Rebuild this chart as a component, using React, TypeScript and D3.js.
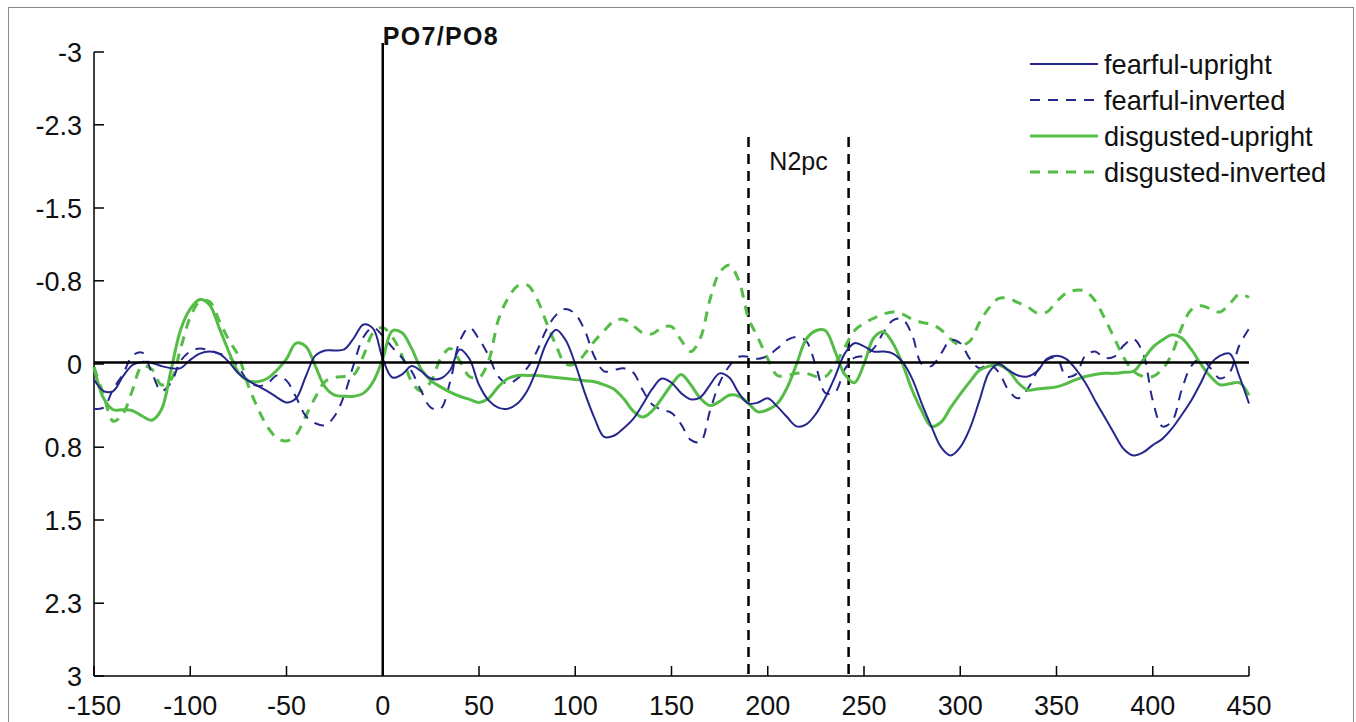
import React from "react";
import * as d3 from "d3";

const times: number[] = d3.range(-150, 451, 5);

const fearfulUpright = [
  0.15,0.26,0.26,0.12,0.01,-0.02,-0.01,0.02,0.04,0.04,
  -0.04,-0.1,-0.12,-0.1,-0.02,0.09,0.16,0.21,0.26,0.32,
  0.37,0.33,0.12,-0.08,-0.13,-0.13,-0.14,-0.25,-0.38,-0.34,
  -0.05,0.13,0.1,0.02,0.07,0.14,0.14,0.06,-0.14,-0.05,
  0.2,0.35,0.42,0.43,0.38,0.26,0.05,-0.2,-0.33,-0.23,
  0.0,0.28,0.52,0.7,0.69,0.62,0.53,0.39,0.24,0.14,
  0.18,0.28,0.34,0.32,0.2,0.09,0.13,0.28,0.38,0.37,
  0.33,0.41,0.51,0.6,0.58,0.48,0.32,0.12,-0.1,-0.2,
  -0.17,-0.12,-0.12,-0.1,-0.02,0.14,0.38,0.6,0.8,0.88,
  0.8,0.62,0.35,0.08,0.0,0.06,0.11,0.12,0.07,-0.05,
  -0.08,-0.05,0.05,0.18,0.35,0.51,0.67,0.82,0.88,0.85,
  0.78,0.72,0.62,0.49,0.35,0.18,0.0,-0.08,-0.1,0.12,
  0.38,
];

const fearfulInverted = [
  0.43,0.42,0.24,0.1,-0.08,-0.11,0.08,0.26,0.18,-0.03,
  -0.12,-0.15,-0.13,-0.1,-0.07,0.03,0.16,0.21,0.19,0.11,
  0.16,0.32,0.5,0.57,0.59,0.5,0.3,0.0,-0.26,-0.35,
  -0.27,-0.16,-0.06,0.07,0.26,0.42,0.43,0.17,-0.22,-0.35,
  -0.24,-0.08,0.12,0.19,0.14,0.04,-0.12,-0.33,-0.47,-0.53,
  -0.48,-0.32,-0.07,0.07,0.06,0.04,0.08,0.25,0.39,0.44,
  0.47,0.58,0.73,0.75,0.45,0.18,0.02,-0.07,-0.07,-0.05,
  -0.08,-0.15,-0.23,-0.26,-0.22,0.02,0.28,0.27,0.05,-0.06,
  -0.08,-0.15,-0.3,-0.42,-0.43,-0.28,0.0,0.02,-0.1,-0.23,
  -0.2,-0.05,0.04,0.0,0.08,0.25,0.33,0.24,0.07,-0.04,
  -0.06,0.12,0.1,-0.08,-0.12,-0.06,-0.07,-0.18,-0.24,-0.1,
  0.35,0.6,0.55,0.25,0.02,-0.05,0.04,0.14,0.08,-0.18,
  -0.34,
];

const disgustedUpright = [
  0.03,0.33,0.44,0.44,0.45,0.5,0.54,0.44,0.06,-0.33,
  -0.53,-0.62,-0.57,-0.35,-0.12,0.08,0.16,0.17,0.14,0.06,
  -0.05,-0.2,-0.17,0.02,0.22,0.3,0.31,0.31,0.28,0.17,
  -0.05,-0.32,-0.3,-0.15,0.05,0.16,0.22,0.27,0.31,0.34,
  0.37,0.33,0.22,0.14,0.11,0.11,0.11,0.12,0.13,0.14,
  0.15,0.16,0.17,0.2,0.24,0.33,0.45,0.51,0.45,0.33,
  0.2,0.1,0.2,0.33,0.4,0.36,0.3,0.31,0.38,0.46,
  0.44,0.38,0.23,0.0,-0.24,-0.32,-0.32,-0.12,0.1,0.18,
  0.0,-0.25,-0.31,-0.2,0.0,0.25,0.45,0.6,0.56,0.42,
  0.29,0.17,0.06,0.02,0.01,0.06,0.18,0.25,0.24,0.23,
  0.22,0.19,0.15,0.12,0.1,0.09,0.09,0.08,0.07,-0.04,
  -0.16,-0.23,-0.28,-0.25,-0.14,0.0,0.12,0.2,0.19,0.18,
  0.3,
];

const disgustedInverted = [
  0.03,0.3,0.55,0.48,0.25,0.02,0.05,0.2,0.15,-0.15,
  -0.45,-0.6,-0.6,-0.42,-0.23,-0.08,0.2,0.42,0.6,0.71,
  0.74,0.68,0.5,0.32,0.17,0.13,0.12,0.1,-0.08,-0.3,
  -0.35,-0.26,-0.08,0.17,0.26,0.17,-0.05,-0.15,-0.03,0.12,
  0.13,-0.03,-0.42,-0.63,-0.75,-0.76,-0.63,-0.4,-0.18,0.0,
  0.0,-0.1,-0.22,-0.32,-0.41,-0.43,-0.37,-0.3,-0.29,-0.35,
  -0.36,-0.23,-0.12,-0.25,-0.62,-0.88,-0.95,-0.8,-0.44,-0.25,
  -0.05,0.11,0.11,0.09,0.09,0.12,0.12,0.0,-0.16,-0.32,
  -0.39,-0.44,-0.48,-0.5,-0.48,-0.43,-0.4,-0.38,-0.33,-0.24,
  -0.18,-0.22,-0.4,-0.54,-0.63,-0.63,-0.59,-0.55,-0.49,-0.5,
  -0.6,-0.68,-0.71,-0.7,-0.61,-0.44,-0.25,-0.06,0.07,0.12,
  0.12,0.05,-0.1,-0.35,-0.52,-0.56,-0.53,-0.5,-0.58,-0.67,
  -0.64,
];

const xTicks = [-150, -100, -50, 0, 50, 100, 150, 200, 250, 300, 350, 400, 450];
const yTicks = [-3, -2.3, -1.5, -0.8, 0, 0.8, 1.5, 2.3, 3];
const n2pcWindow = [190, 242];

const BLUE = "#25278c";
const GREEN = "#55bd47";

const seriesList = [
  { name: "fearful-upright", values: fearfulUpright, color: BLUE, dash: "", width: 2 },
  { name: "fearful-inverted", values: fearfulInverted, color: BLUE, dash: "10,8", width: 2 },
  { name: "disgusted-upright", values: disgustedUpright, color: GREEN, dash: "", width: 3 },
  { name: "disgusted-inverted", values: disgustedInverted, color: GREEN, dash: "10,8", width: 3 },
];

export default function App() {
  const x = d3.scaleLinear().domain([-150, 450]).range([94, 1249]);
  const y = d3.scaleLinear().domain([-3, 3]).range([52, 676]);
  const line = d3
    .line<number>()
    .x((_, i) => x(times[i]))
    .y((d) => y(d))
    .curve(d3.curveCatmullRom.alpha(0.5));

  const font = "'Liberation Sans', Arial, Helvetica, sans-serif";
  const drawOrder = [3, 1, 2, 0];

  return (
    <svg
      width={1356}
      height={722}
      style={{ position: "absolute", left: 0, top: 0, background: "#fff" }}
      fontFamily={font}
    >
      <rect x={8.5} y={7.5} width={1345} height={740} fill="#fff" stroke="#8a8a8a" strokeWidth={1} />

      {/* axes */}
      <line x1={x(-150)} x2={x(-150)} y1={y(-3)} y2={y(3)} stroke="#000" strokeWidth={1.5} />
      <line x1={x(-150)} x2={x(450)} y1={y(3)} y2={y(3)} stroke="#000" strokeWidth={1.5} />
      {yTicks.map((t) => (
        <g key={"y" + t}>
          <line x1={x(-150)} x2={x(-150) + 10} y1={y(t)} y2={y(t)} stroke="#000" strokeWidth={1.5} />
          <text x={x(-150) - 12} y={y(t)} dy="0.36em" textAnchor="end" fontSize={27} fill="#111">
            {String(t)}
          </text>
        </g>
      ))}
      {xTicks.map((t) => (
        <g key={"x" + t}>
          <line x1={x(t)} x2={x(t)} y1={y(3)} y2={y(3) - 10} stroke="#000" strokeWidth={1.5} />
          <text x={x(t)} y={715} textAnchor="middle" fontSize={27} fill="#111">
            {String(t)}
          </text>
        </g>
      ))}

      {/* N2pc window */}
      {n2pcWindow.map((t) => (
        <line
          key={"n" + t}
          x1={x(t)}
          x2={x(t)}
          y1={137}
          y2={y(3)}
          stroke="#000"
          strokeWidth={2.5}
          strokeDasharray="10,7"
        />
      ))}
      <text x={(x(n2pcWindow[0]) + x(n2pcWindow[1])) / 2} y={170} textAnchor="middle" fontSize={25} fill="#111">
        N2pc
      </text>

      {/* series */}
      {drawOrder.map((k) => {
        const s = seriesList[k];
        return (
          <path
            key={s.name}
            d={line(s.values) || ""}
            fill="none"
            stroke={s.color}
            strokeWidth={s.width}
            strokeDasharray={s.dash || undefined}
            strokeLinejoin="round"
          />
        );
      })}

      {/* zero lines */}
      <line x1={x(-150)} x2={x(450)} y1={y(0) - 1.5} y2={y(0) - 1.5} stroke="#000" strokeWidth={2.5} />
      <line x1={x(0)} x2={x(0)} y1={43} y2={y(3)} stroke="#000" strokeWidth={2.5} />
      <text x={x(0)} y={45} fontSize={25} fontWeight="bold" letterSpacing={1.3} fill="#111">
        PO7/PO8
      </text>

      {/* legend */}
      {seriesList.map((s, i) => {
        const ly = 64 + i * 36;
        return (
          <g key={"lg" + s.name}>
            <line
              x1={1030}
              x2={1098}
              y1={ly}
              y2={ly}
              stroke={s.color}
              strokeWidth={s.width}
              strokeDasharray={s.dash || undefined}
            />
            <text x={1104} y={ly} dy="0.36em" fontSize={27.2} fill="#111">
              {s.name}
            </text>
          </g>
        );
      })}
    </svg>
  );
}
